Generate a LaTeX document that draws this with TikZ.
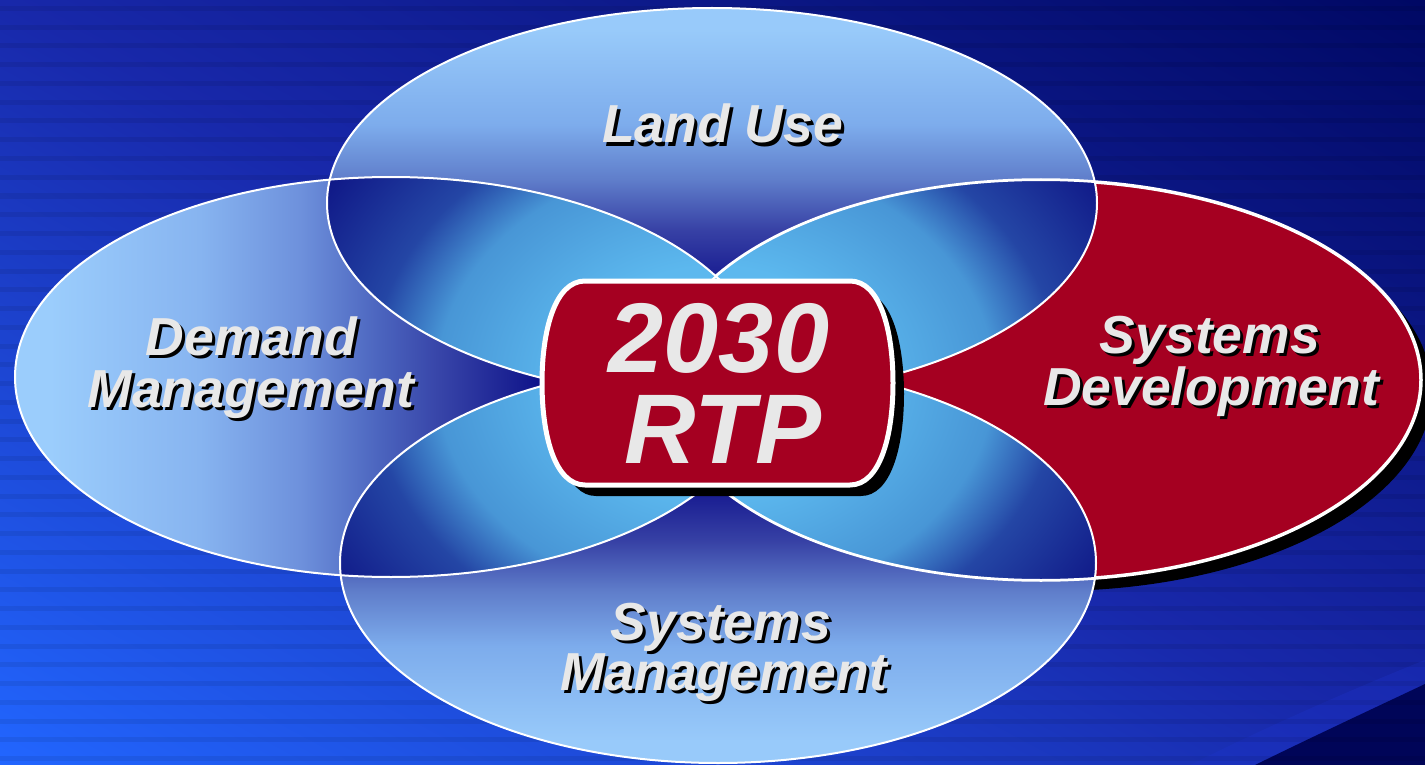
\documentclass[tikz,border=0pt]{standalone}
\usepackage{fontspec}
\setmainfont{Liberation Sans}
\usetikzlibrary{shadings}

\definecolor{redc}{RGB}{165,0,33}
\definecolor{txtc}{RGB}{232,232,232}
\definecolor{bandc}{RGB}{30,52,205}
\definecolor{cornerc}{RGB}{0,5,88}
% top / bottom ellipse gradient
\definecolor{tL}{RGB}{152,202,250}
\definecolor{tA}{RGB}{125,172,236}
\definecolor{tB}{RGB}{95,125,202}
\definecolor{tC}{RGB}{55,65,165}
\definecolor{tE}{RGB}{26,30,146}
\definecolor{tD}{RGB}{16,18,136}
% left ellipse gradient
\definecolor{lA}{RGB}{155,205,252}
\definecolor{lB}{RGB}{135,180,240}
\definecolor{lC}{RGB}{110,145,220}
\definecolor{lE}{RGB}{75,100,190}
\definecolor{lF}{RGB}{55,68,168}
\definecolor{lG}{RGB}{16,20,138}
% lens gradient
\definecolor{nL}{RGB}{92,184,238}
\definecolor{nB}{RGB}{72,150,214}
\definecolor{nC}{RGB}{36,70,165}
\definecolor{nD}{RGB}{12,16,130}

\pgfdeclarefunctionalshading{bgshade}{\pgfpoint{0bp}{0bp}}{\pgfpoint{100bp}{100bp}}{}{
 25 sub 50 div exch 25 sub 50 div add 2 div
 dup 0 lt {pop 0} if dup 1 gt {pop 1} if
 dup 0.5 lt
 {2 mul dup -10 mul 34 add 255 div exch dup -62 mul 102 add 255 div exch -85 mul 255 add 255 div}
 {0.5 sub 2 mul dup -24 mul 24 add 255 div exch dup -32 mul 40 add 255 div exch -70 mul 170 add 255 div}
 ifelse
}
% top ellipse: rectangle y 0..400, bp = 25 + (400-y)/8
\pgfdeclareverticalshading{tgrad}{100bp}{color(0bp)=(tD); color(25bp)=(tD); color(40.6bp)=(tE); color(46.25bp)=(tC); color(52.5bp)=(tB); color(59.4bp)=(tA); color(71.25bp)=(tL); color(100bp)=(tL)}
% bottom ellipse: rectangle y 360..765, bp = 25 + 50(765-y)/405
\pgfdeclareverticalshading{bgrad}{100bp}{color(0bp)=(tL); color(27.96bp)=(tL); color(39.7bp)=(tA); color(46.5bp)=(tB); color(52.65bp)=(tC); color(58.2bp)=(tE); color(75bp)=(tD); color(100bp)=(tD)}
% left ellipse: rectangle x 0..800, bp = 25 + x/16
\pgfdeclarehorizontalshading{lgrad}{100bp}{color(0bp)=(lA); color(28.1bp)=(lA); color(37.5bp)=(lB); color(43.75bp)=(lC); color(48.75bp)=(lE); color(52.5bp)=(lF); color(58.6bp)=(lG); color(100bp)=(lG)}
% lenses
\pgfdeclareradialshading{lensgrad}{\pgfpoint{0bp}{0bp}}{color(0bp)=(nL); color(7.5bp)=(nL); color(14.5bp)=(nB); color(18bp)=(nC); color(25bp)=(nD); color(50bp)=(nD)}

% text with a black drop shadow behind it
\newcommand\shtxt[1]{\makebox[0pt][l]{\hspace*{3pt}\raisebox{-3pt}{\textcolor{black}{#1}}}#1}

\tikzset{
  ellT/.style={insert path={(712,203) ellipse [x radius=385pt, y radius=195pt]}},
  ellB/.style={insert path={(718,563) ellipse [x radius=378pt, y radius=200pt]}},
  ellL/.style={insert path={(391,377) ellipse [x radius=376pt, y radius=200pt]}},
  ellR/.style={insert path={(1041,380) ellipse [x radius=380pt, y radius=200pt]}},
  ellRsh/.style={insert path={(1052,391) ellipse [x radius=380pt, y radius=200pt]}},
  outl/.style={draw=white, line width=2pt},
  lbl/.style={font=\bfseries\itshape\fontsize{53.5}{53.5}\selectfont, text=txtc, inner sep=0pt, anchor=base, text height=38pt, text depth=4pt},
  rtptxt/.style={font=\bfseries\itshape\fontsize{99}{99}\selectfont, text=txtc, inner sep=0pt, anchor=base},
  rtpbox/.style={fill=redc, draw=white, line width=5pt},
  lens/.style={shading=lensgrad}
}

\begin{document}
\begin{tikzpicture}[x=1pt,y=-1pt]
\useasboundingbox (0,0) rectangle (1425,765);
% background
\shade[shading=bgshade] (0,0) rectangle (1425,765);
\fill[bandc, opacity=0.3] (1190,765) .. controls (1260,730) and (1345,692) .. (1425,660) -- (1425,765) -- cycle;
\fill[cornerc] (1255,765) .. controls (1310,738) and (1370,710) .. (1425,684) -- (1425,765) -- cycle;
\foreach \i in {0,...,41} { \fill[black, opacity=0.07] (0,{18.75*\i+6}) rectangle (1425,{18.75*\i+11}); }

% shadow of the red ellipse
\fill[black, ellRsh];

% ellipse fills
\begin{scope}
  \clip[ellT];
  \shade[shading=tgrad] (0,0) rectangle (1425,400);
\end{scope}
\begin{scope}
  \clip[ellB];
  \shade[shading=bgrad] (0,360) rectangle (1425,765);
\end{scope}
\begin{scope}
  \clip[ellL];
  \shade[shading=lgrad] (0,170) rectangle (800,590);
\end{scope}
\path[fill=redc, draw=white, line width=3.5pt, ellR];

% overlapping lenses
\begin{scope}\clip[ellT]; \clip[ellL]; \shade[lens] (715,380) ellipse [x radius=480pt, y radius=380pt]; \end{scope}
\begin{scope}\clip[ellT]; \clip[ellR]; \shade[lens] (715,380) ellipse [x radius=480pt, y radius=380pt]; \end{scope}
\begin{scope}\clip[ellB]; \clip[ellL]; \shade[lens] (715,380) ellipse [x radius=480pt, y radius=380pt]; \end{scope}
\begin{scope}\clip[ellB]; \clip[ellR]; \shade[lens] (715,380) ellipse [x radius=480pt, y radius=380pt]; \end{scope}

% outlines
\path[outl, ellT];
\path[outl, ellB];
\path[outl, ellL];
\path[outl, ellR];

% centre box with shadow
\fill[black] (596,292) -- (861,292) .. controls (891,292) and (904,341) .. (904,394) .. controls (904,447) and (891,496) .. (861,496) -- (596,496) .. controls (566,496) and (553,447) .. (553,394) .. controls (553,341) and (566,292) .. (596,292) -- cycle;
\path[rtpbox] (585,281) -- (850,281) .. controls (880,281) and (893,330) .. (893,383) .. controls (893,436) and (880,485) .. (850,485) -- (585,485) .. controls (555,485) and (542,436) .. (542,383) .. controls (542,330) and (555,281) .. (585,281) -- cycle;

\node[rtptxt] (n2030) at (719,372) {2030};
\node[rtptxt] (nrtp) at (723,463) {RTP};

% labels
\node[lbl] (land) at (722.5,143) {\shtxt{Land Use}};
\node[lbl] (dem1) at (251.5,355) {\shtxt{Demand}};
\node[lbl] (dem2) at (251,407) {\shtxt{Management}};
\node[lbl] (sd1) at (1210,353) {\shtxt{Systems}};
\node[lbl] (sd2) at (1211,405) {\shtxt{Development}};
\node[lbl] (sm1) at (721,640) {\shtxt{Systems}};
\node[lbl] (sm2) at (723.5,690) {\shtxt{Management}};
\end{tikzpicture}
\end{document}
